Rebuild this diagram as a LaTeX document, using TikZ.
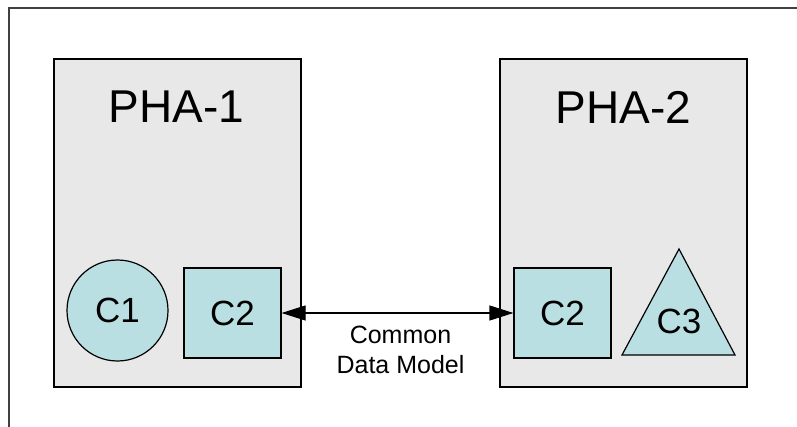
\documentclass[tikz,border=0pt]{standalone}
\usepackage{fontspec}
\setmainfont{Liberation Sans}
\usetikzlibrary{arrows.meta}
\definecolor{phagray}{HTML}{E8E8E8}
\definecolor{comp}{HTML}{BADFE2}
\definecolor{frame}{HTML}{404040}
\tikzset{
  phabox/.style={draw=black, line width=1.6pt, fill=phagray},
  compbox/.style={draw=black, line width=1.2pt, fill=comp, inner sep=0pt,
    font=\fontsize{35}{40}\selectfont},
  titletext/.style={font=\fontsize{46}{50}\selectfont, inner sep=0pt},
  labeltext/.style={font=\fontsize{25}{30}\selectfont, align=center, inner sep=0pt},
  link/.style={line width=1.2pt, {Triangle[length=24pt,width=15pt]}-{Triangle[length=24pt,width=15pt]}}
}
\begin{document}
\begin{tikzpicture}[x=1pt,y=-1pt]
\useasboundingbox (0,0) rectangle (797,427);
% outer frame (cropped)
\coordinate (fb) at (9,430);
\coordinate (ftl) at (9,8);
\coordinate (fr) at (800,8);
\draw[frame, line width=1.4pt] (fb) -- (ftl) -- (fr);
% PHA boxes
\node[phabox, minimum width=247pt, minimum height=328pt, anchor=north west, inner sep=0pt] (pha1) at (53,58) {};
\node[phabox, minimum width=247pt, minimum height=328pt, anchor=north west, inner sep=0pt] (pha2) at (499,58) {};
\node[titletext] (t1) at (176.5,107) {PHA-1};
\node[titletext] (t2) at (623.5,107) {PHA-2};
% components
\node[compbox, circle, minimum size=101pt] (c1) at (117.5,310.5) {C1};
\node[compbox, rectangle, minimum width=97pt, minimum height=90pt] (c2a) at (232.5,313) {C2};
\node[compbox, rectangle, minimum width=97pt, minimum height=90pt] (c2b) at (562.5,313) {C2};
\coordinate (c3top) at (679,249);
\coordinate (c3l) at (622,355);
\coordinate (c3r) at (735,355);
\draw[draw=black, line width=1.2pt, fill=comp, line join=miter] (c3top) -- (c3r) -- (c3l) -- cycle;
\node[inner sep=0pt, font=\fontsize{35}{40}\selectfont] (c3) at (679,321) {C3};
% connector
\draw[link] (c2a.east) -- (c2b.west);
\node[labeltext] (cdm) at (400.5,350) {Common\\Data Model};
\end{tikzpicture}
\end{document}
